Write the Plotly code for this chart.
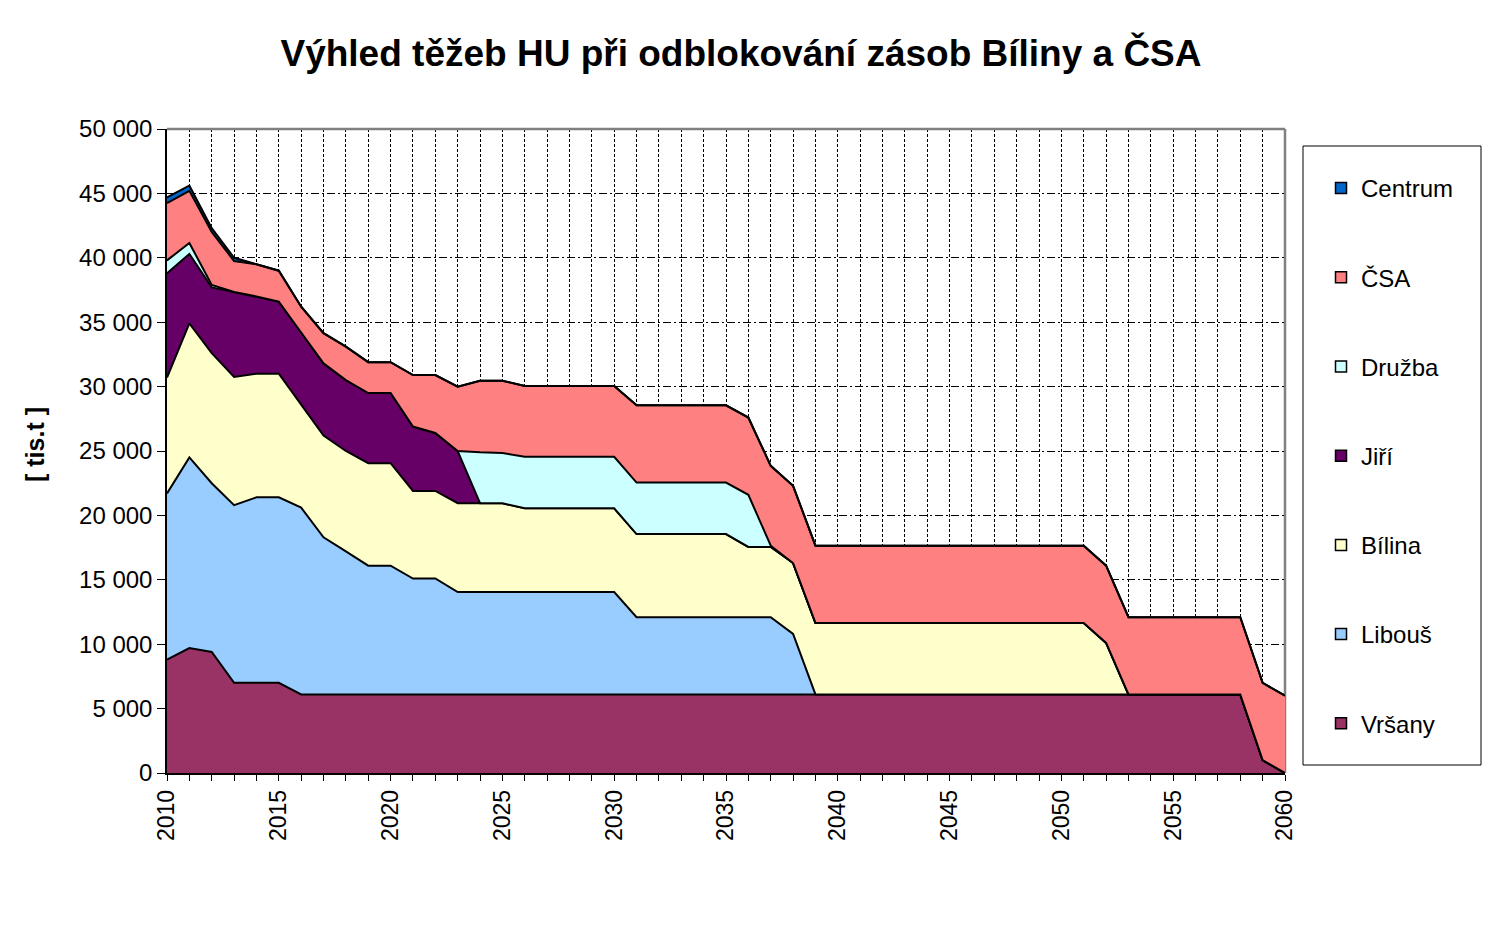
import plotly.graph_objects as go

years = list(range(2010, 2061))

vrsany = [8800, 9700, 9400, 7000, 7000, 7000, 6100, 6100, 6100, 6100,
          6100, 6100, 6100, 6100, 6100, 6100, 6100, 6100, 6100, 6100,
          6100, 6100, 6100, 6100, 6100, 6100, 6100, 6100, 6100, 6100,
          6100, 6100, 6100, 6100, 6100, 6100, 6100, 6100, 6100, 6100,
          6100, 6100, 6100, 6100, 6100, 6100, 6100, 6100, 6100, 1000,
          0]
libous = [12900, 14800, 13100, 13800, 14400, 14400, 14500, 12200, 11100, 10000,
          10000, 9000, 9000, 7950, 7950, 7950, 7950, 7950, 7950, 7950,
          7950, 6000, 6000, 6000, 6000, 6000, 6000, 6000, 4700, 0,
          0, 0, 0, 0, 0, 0, 0, 0, 0, 0,
          0, 0, 0, 0, 0, 0, 0, 0, 0, 0,
          0]
bilina = [9000, 10400, 10100, 9950, 9600, 9600, 8000, 7900, 7800, 7950,
          7950, 6800, 6800, 6900, 6900, 6900, 6500, 6500, 6500, 6500,
          6500, 6450, 6450, 6450, 6450, 6450, 5450, 5450, 5500, 5550,
          5550, 5550, 5550, 5550, 5550, 5550, 5550, 5550, 5550, 5550,
          5550, 5550, 4000, 0, 0, 0, 0, 0, 0, 0,
          0]
jiri = [8100, 5400, 5100, 6600, 6000, 5600, 5600, 5600, 5500, 5450,
        5450, 5000, 4500, 4050, 0, 0, 0, 0, 0, 0,
        0, 0, 0, 0, 0, 0, 0, 0, 0, 0,
        0, 0, 0, 0, 0, 0, 0, 0, 0, 0,
        0, 0, 0, 0, 0, 0, 0, 0, 0, 0,
        0]
druzba = [1000, 850, 200, 0, 0, 0, 0, 0, 0, 0,
          0, 0, 0, 0, 3950, 3900, 4000, 4000, 4000, 4000,
          4000, 4000, 4000, 4000, 4000, 4000, 4050, 100, 0, 0,
          0, 0, 0, 0, 0, 0, 0, 0, 0, 0,
          0, 0, 0, 0, 0, 0, 0, 0, 0, 0,
          0]
csa = [4450, 4050, 4100, 2400, 2500, 2400, 2000, 2350, 2600, 2400,
       2400, 4000, 4500, 5000, 5550, 5600, 5500, 5500, 5500, 5500,
       5500, 6000, 6000, 6000, 6000, 6000, 6000, 6200, 6000, 6000,
       6000, 6000, 6000, 6000, 6000, 6000, 6000, 6000, 6000, 6000,
       6000, 6000, 6000, 6000, 6000, 6000, 6000, 6000, 6000, 6000,
       6000]
centrum = [450, 400, 300, 250, 0, 0, 0, 0, 0, 0,
           0, 0, 0, 0, 0, 0, 0, 0, 0, 0,
           0, 0, 0, 0, 0, 0, 0, 0, 0, 0,
           0, 0, 0, 0, 0, 0, 0, 0, 0, 0,
           0, 0, 0, 0, 0, 0, 0, 0, 0, 0,
           0]

series = [
    ("Vršany", vrsany, "#993366"),
    ("Libouš", libous, "#99CCFF"),
    ("Bílina", bilina, "#FFFFCC"),
    ("Jiří", jiri, "#660066"),
    ("Družba", druzba, "#CCFFFF"),
    ("ČSA", csa, "#FF8080"),
    ("Centrum", centrum, "#0066CC"),
]

title_text = "Výhled těžeb HU při odblokování zásob Bíliny a ČSA"
y_title = "[ tis.t ]"
FONT = "Arial, Liberation Sans, sans-serif"

fig = go.Figure()
for name, vals, col in series:
    fig.add_trace(go.Scatter(
        x=years, y=vals, name=name, mode="lines", stackgroup="one",
        line=dict(color="black", width=2), fillcolor=col, showlegend=False,
        hovertemplate=name + " %{x}: %{y}<extra></extra>",
    ))

# legend entries (square markers), top to bottom
for name, vals, col in reversed(series):
    fig.add_trace(go.Scatter(
        x=[None], y=[None], name=name, mode="markers", legendgroup=name,
        marker=dict(symbol="square", size=11, color=col,
                    line=dict(color="black", width=1.5)),
    ))

# page is offset by the 8px body margin
OFF = 8
W, H = 1502, 928
PL, PR, PT, PB = 167, 1285, 129, 773  # plot area in page pixels
L = PL - OFF
T = PT - OFF
pw, ph = PR - PL, PB - PT
R = W - L - pw
B = H - T - ph

def px2x(px):
    return (px - PL) / pw

def px2y(py):
    return (PB - py) / ph

fig.update_layout(
    width=W, height=H,
    margin=dict(l=L, r=R, t=T, b=B, autoexpand=False),
    paper_bgcolor="white", plot_bgcolor="white",
    font=dict(family=FONT, color="black", size=22),
    separators=", ",
    title=dict(text="<b>" + title_text + "</b>", x=(741 - OFF) / W, xref="container",
               xanchor="center", y=1 - (53 - OFF) / H, yref="container", yanchor="middle",
               font=dict(size=37, family=FONT, color="black")),
    showlegend=True,
    legend=dict(x=px2x(1321), y=px2y(166), xanchor="left", yanchor="top",
                bgcolor="rgba(0,0,0,0)", borderwidth=0, tracegroupgap=55,
                font=dict(size=24, family=FONT, color="black")),
    xaxis=dict(
        range=[2010, 2060], tick0=2010, dtick=5, tickmode="linear",
        showgrid=True, gridcolor="black", griddash="3px,2px", gridwidth=1,
        ticks="outside", ticklen=6, tickcolor="black", tickwidth=1,
        tickangle=-90, tickfont=dict(size=23, family=FONT, color="black"),
        showline=True, linecolor="black", linewidth=1.5, zeroline=False,
        minor=dict(dtick=1, tick0=2010, showgrid=True, gridcolor="black",
                   griddash="3px,2px", gridwidth=1, ticks="outside", ticklen=6,
                   tickcolor="black", tickwidth=1),
    ),
    yaxis=dict(
        range=[0, 50000], dtick=5000, tick0=0, tickmode="linear",
        tickformat=",.0f",
        showgrid=True, gridcolor="black", griddash="8px,3px,2px,3px", gridwidth=1,
        ticks="outside", ticklen=8, tickcolor="black", tickwidth=1,
        tickfont=dict(size=24, family=FONT, color="black"),
        showline=True, linecolor="black", linewidth=1.5, zeroline=False,
    ),
    shapes=[
        dict(type="rect", xref="paper", yref="paper",
             x0=px2x(1303), x1=px2x(1481), y0=px2y(765), y1=px2y(146),
             line=dict(color="black", width=1), fillcolor="rgba(0,0,0,0)"),
        dict(type="line", xref="paper", yref="paper", x0=0, x1=1, y0=1, y1=1,
             line=dict(color="#808080", width=2.5)),
        dict(type="line", xref="paper", yref="paper", x0=1, x1=1, y0=0, y1=1,
             line=dict(color="#808080", width=2.5), layer="below"),
    ],
    annotations=[
        dict(text="<b>" + y_title + "</b>", xref="paper", yref="paper",
             x=px2x(35), y=px2y(445), textangle=-90, showarrow=False,
             xanchor="center", yanchor="middle",
             font=dict(size=25, family=FONT, color="black")),
    ],
)

fig.write_html("out.html")
